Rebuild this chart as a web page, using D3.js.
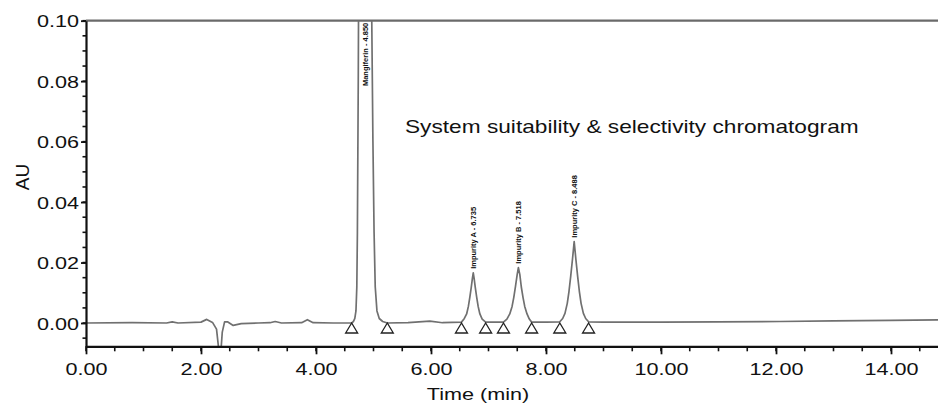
<!DOCTYPE html>
<html>
<head>
<meta charset="utf-8">
<script src="https://cdn.jsdelivr.net/npm/d3@7"></script>
<style>
  html, body { margin: 0; padding: 0; background: #fff; }
  svg { display: block; }
  text { font-family: "Liberation Sans", Arial, sans-serif; }
</style>
</head>
<body>
<svg id="chart" width="938" height="407"></svg>
<script>
// ---- Data ----
const signalTime = [0, 0.8, 1.4, 1.5, 1.6, 2.0, 2.1, 2.2, 2.27, 2.31, 2.34, 2.37, 2.41, 2.46, 2.56, 2.7, 3.0,
  3.2, 3.29, 3.4, 3.75, 3.85, 3.95, 4.3,
  4.62, 4.65, 4.675, 4.695, 4.71, 4.72, 4.735, 4.75, 4.85, 4.955, 4.97, 4.99, 5.01, 5.03, 5.06, 5.10, 5.16, 5.24,
  5.6, 5.98, 6.2,
  6.53, 6.58, 6.62, 6.65, 6.675, 6.70, 6.72, 6.735, 6.75, 6.77, 6.795, 6.82, 6.85, 6.89, 6.95,
  7.1,
  7.26, 7.32, 7.37, 7.41, 7.44, 7.47, 7.50, 7.52, 7.545, 7.57, 7.60, 7.63, 7.67, 7.71, 7.75,
  8.0,
  8.24, 8.29, 8.33, 8.37, 8.40, 8.43, 8.46, 8.49, 8.52, 8.55, 8.58, 8.61, 8.65, 8.69, 8.74,
  9.0, 10.0, 11.0, 12.07, 13.0, 14.0, 15.0];
const signalAU = [0, 0.0001, 0, 0.0004, 0, 0.0003, 0.0012, 0.0002, -0.002, -0.009, -0.011, -0.003, 0.0004,
  0.0004, -0.0008, -0.0002, 0, 0.0001, 0.0005, 0, 0.0001, 0.0011, 0.0001, 0,
  0, 0.0005, 0.0015, 0.004, 0.012, 0.03, 0.08, 0.15, 0.6, 0.15, 0.1, 0.06, 0.03, 0.012, 0.004, 0.0015, 0.0005, 0,
  0.0001, 0.0006, 0.0001,
  0.0003, 0.0015, 0.003, 0.0055, 0.0085, 0.0118, 0.0148, 0.0166, 0.0148, 0.0118, 0.0085, 0.0055, 0.003, 0.0013, 0.0003,
  0.0003,
  0.0003, 0.0013, 0.003, 0.0055, 0.0085, 0.0122, 0.0162, 0.0183, 0.016, 0.012, 0.0085, 0.0055, 0.003, 0.0013, 0.0003,
  0.0003,
  0.0004, 0.0015, 0.0032, 0.0065, 0.0105, 0.0155, 0.021, 0.0269, 0.021, 0.0155, 0.0105, 0.0065, 0.0032, 0.0015, 0.0004,
  0.0003, 0.0003, 0.0004, 0.0005, 0.0007, 0.0009, 0.0011];

const peakNames = ["Mangiferin - 4.850", "Impurity A - 6.735", "Impurity B - 7.518", "Impurity C - 8.488"];
const peakRT = [4.85, 6.735, 7.518, 8.488];
const peakApex = [0.6, 0.0166, 0.0183, 0.0269];
const peakStart = [4.62, 6.53, 7.26, 8.24];
const peakEnd = [5.24, 6.95, 7.75, 8.74];

const xMajorTicks = [0, 2, 4, 6, 8, 10, 12, 14];
const xMinorTicks = d3.range(0, 15.01, 0.5);
const yMajorTicks = [0, 0.02, 0.04, 0.06, 0.08, 0.10];
const yMinorTicks = d3.range(-0.005, 0.1001, 0.005);

const titleText = "System suitability & selectivity chromatogram";
const xTitle = "Time (min)";
const yTitle = "AU";

// ---- Layout ----
const W = 938, H = 407;
const svg = d3.select("#chart");
const stretch = 1.27;

const x = d3.scaleLinear().domain([0, 15]).range([86, 948.5]);
const y = d3.scaleLinear().domain([-0.0077, 0.10]).range([346.3, 20.7]);

const plotTop = y(0.10), plotBottom = y(-0.0077), plotLeft = x(0);

svg.append("rect").attr("width", W).attr("height", H).attr("fill", "#fff");

svg.append("defs").append("clipPath").attr("id", "plotclip")
  .append("rect").attr("x", plotLeft).attr("y", plotTop)
  .attr("width", W - plotLeft).attr("height", plotBottom - plotTop);

// top frame line
svg.append("line").attr("x1", plotLeft).attr("x2", W)
  .attr("y1", plotTop).attr("y2", plotTop)
  .attr("stroke", "#6a6a6a").attr("stroke-width", 2.2);

// ---- Chromatogram ----
const pts = signalTime.map((t, i) => [t, signalAU[i]]);
const line = d3.line().x(d => x(d[0])).y(d => y(d[1])).curve(d3.curveLinear);
svg.append("path").datum(pts)
  .attr("clip-path", "url(#plotclip)")
  .attr("d", line)
  .attr("fill", "none")
  .attr("stroke", "#707070")
  .attr("stroke-width", 1.7)
  .attr("stroke-linejoin", "round");

// ---- Peak integration markers (triangles) ----
const marks = peakStart.concat(peakEnd);
svg.append("g").selectAll("path").data(marks).join("path")
  .attr("d", t => {
    const cx = x(t), cy = y(0);
    return `M${cx},${cy} L${cx - 6},${cy + 10} L${cx + 6},${cy + 10} Z`;
  })
  .attr("fill", "#fff").attr("stroke", "#222").attr("stroke-width", 1.3);

// ---- Peak labels ----
svg.append("g").selectAll("text").data(peakNames).join("text")
  .attr("transform", (d, i) => {
    const px = x(peakRT[i]) + 3;
    if (peakApex[i] > 0.1) return `translate(${px},${plotTop + 2}) rotate(-90)`;
    return `translate(${px},${y(peakApex[i]) - 4}) rotate(-90)`;
  })
  .attr("text-anchor", (d, i) => peakApex[i] > 0.1 ? "end" : "start")
  .attr("font-size", 7.5).attr("font-weight", "bold").attr("fill", "#111")
  .text(d => d);

// ---- Axes ----
const axisColor = "#111";
svg.append("g").selectAll("line").data(xMinorTicks).join("line")
  .attr("x1", d => x(d)).attr("x2", d => x(d))
  .attr("y1", plotBottom).attr("y2", plotBottom + 5)
  .attr("stroke", axisColor).attr("stroke-width", 1.6);
const xAxis = svg.append("g").attr("transform", `translate(0,${plotBottom})`)
  .call(d3.axisBottom(x).tickValues(xMajorTicks).tickFormat(d3.format(".2f")).tickSize(8).tickSizeOuter(0));
xAxis.select(".domain").attr("stroke", axisColor).attr("stroke-width", 2.2);
xAxis.selectAll(".tick line").attr("stroke", axisColor).attr("stroke-width", 1.8);
xAxis.selectAll(".tick text")
  .attr("y", 0).attr("dy", null)
  .attr("transform", `translate(0,29) scale(${stretch},1)`)
  .attr("font-size", 17).attr("fill", "#111")
  .style("font-family", "'Liberation Sans', Arial, sans-serif");

svg.append("g").selectAll("line").data(yMinorTicks).join("line")
  .attr("x1", plotLeft - 3.5).attr("x2", plotLeft)
  .attr("y1", d => y(d)).attr("y2", d => y(d))
  .attr("stroke", axisColor).attr("stroke-width", 1.6);
const yAxis = svg.append("g").attr("transform", `translate(${plotLeft},0)`)
  .call(d3.axisLeft(y).tickValues(yMajorTicks).tickFormat(d3.format(".2f")).tickSize(5).tickSizeOuter(0));
yAxis.select(".domain").attr("stroke", axisColor).attr("stroke-width", 2.2);
yAxis.selectAll(".tick line").attr("stroke", axisColor).attr("stroke-width", 1.8);
yAxis.selectAll(".tick text")
  .attr("x", 0).attr("dy", "0.36em")
  .attr("transform", `translate(-7,0) scale(${stretch},1)`)
  .attr("font-size", 17).attr("fill", "#111")
  .style("font-family", "'Liberation Sans', Arial, sans-serif");

// ---- Titles ----
svg.append("text")
  .attr("transform", `translate(478,400) scale(${stretch},1)`)
  .attr("text-anchor", "middle").attr("font-size", 17).attr("fill", "#111")
  .text(xTitle);

svg.append("text")
  .attr("transform", `translate(29,177) rotate(-90)`)
  .attr("text-anchor", "middle").attr("font-size", 19).attr("fill", "#111")
  .text(yTitle);

svg.append("text")
  .attr("transform", `translate(405,133) scale(1.26,1)`)
  .attr("font-size", 18).attr("fill", "#111")
  .text(titleText);
</script>
</body>
</html>
